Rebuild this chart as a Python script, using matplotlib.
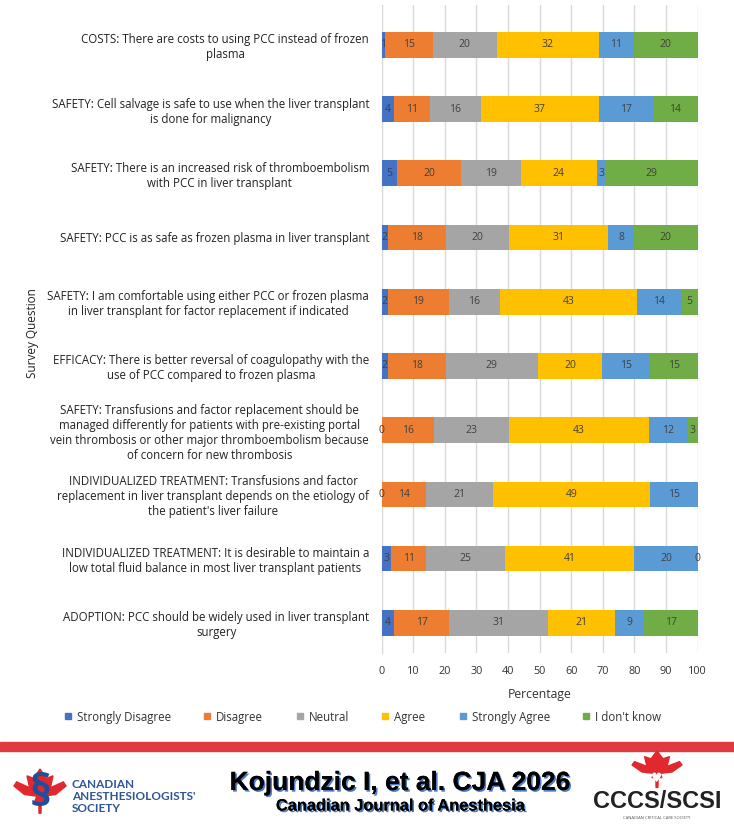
import numpy as np
import matplotlib
matplotlib.use('Agg')
import matplotlib.pyplot as plt
import matplotlib.patheffects as pe
from matplotlib.patches import Polygon, Rectangle

plt.rcParams['font.family'] = ['Open Sans', 'DejaVu Sans']

# ---------- data (top question first) ----------
questions = [
    "COSTS: There are costs to using PCC instead of frozen\nplasma",
    "SAFETY: Cell salvage is safe to use when the liver transplant\nis done for malignancy",
    "SAFETY: There is an increased risk of thromboembolism\nwith PCC in liver transplant",
    "SAFETY: PCC is as safe as frozen plasma in liver transplant",
    "SAFETY: I am comfortable using either PCC or frozen plasma\nin liver transplant for factor replacement if indicated",
    "EFFICACY: There is better reversal of coagulopathy with the\nuse of PCC compared to frozen plasma",
    "SAFETY: Transfusions and factor replacement should be\nmanaged differently for patients with pre-existing portal\nvein thrombosis or other major thromboembolism because\nof concern for new thrombosis",
    "INDIVIDUALIZED TREATMENT: Transfusions and factor\nreplacement in liver transplant depends on the etiology of\nthe patient's liver failure",
    "INDIVIDUALIZED TREATMENT: It is desirable to maintain a\nlow total fluid balance in most liver transplant patients",
    "ADOPTION: PCC should be widely used in liver transplant\nsurgery",
]
strongly_disagree = [1, 4, 5, 2, 2, 2, 0, 0, 3, 4]
disagree = [15, 11, 20, 18, 19, 18, 16, 14, 11, 17]
neutral = [20, 16, 19, 20, 16, 29, 23, 21, 25, 31]
agree = [32, 37, 24, 31, 43, 20, 43, 49, 41, 21]
strongly_agree = [11, 17, 3, 8, 14, 15, 12, 15, 20, 9]
dont_know = [20, 14, 29, 20, 5, 15, 3, np.nan, 0, 17]

series = [
    ("Strongly Disagree", strongly_disagree, "#4472C4"),
    ("Disagree", disagree, "#ED7D31"),
    ("Neutral", neutral, "#A5A5A5"),
    ("Agree", agree, "#FFC000"),
    ("Strongly Agree", strongly_agree, "#5B9BD5"),
    ("I don't know", dont_know, "#70AD47"),
]

vals = np.array([s[1] for s in series], dtype=float)
totals = np.nansum(vals, axis=0)
pct = np.nan_to_num(vals) / totals * 100  # 100% stacked, like Excel

fig = plt.figure(figsize=(7.34, 8.34), dpi=100)
ax = fig.add_axes([0.52, 0.217, 0.4305, 0.777])

y = np.arange(len(questions))
left = np.zeros(len(questions))
for i, (name, raw, color) in enumerate(series):
    ax.barh(y, pct[i], left=left, height=0.4, color=color, label=name, zorder=3)
    for j in range(len(questions)):
        if np.isnan(vals[i, j]):
            continue
        ax.text(left[j] + pct[i, j] / 2, y[j], f"{int(vals[i, j])}",
                ha='center', va='center', fontsize=7.5, color='#404040', zorder=4)
    left += pct[i]

ax.set_xlim(0, 100)
ax.set_ylim(9.47, -0.62)
ax.set_xticks(np.arange(0, 101, 10))
ax.set_yticks(y)
ax.set_yticklabels(questions)
for t in ax.get_yticklabels():
    t.set_multialignment('center')
ax.tick_params(axis='y', length=0, pad=9, labelsize=8.3, labelcolor='#222222')
ax.tick_params(axis='x', length=0, pad=9, labelsize=7.8, labelcolor='#333333')
ax.grid(axis='x', color='#D9D9D9', linewidth=1, zorder=0)
for s in ['top', 'right', 'bottom']:
    ax.spines[s].set_visible(False)
ax.spines['left'].set_color('#D9D9D9')
ax.set_xlabel('Percentage', fontsize=8.8, color='#333333', labelpad=8)

fig.text(0.044, 1 - 333 / 834, 'Survey Question', rotation=90, ha='center',
         va='center', fontsize=8.5, color='#222222')

# legend, drawn by hand so the labels sit on one line
legend_x = [68, 207, 300, 385, 463, 586]
ly = 1 - 716 / 834
for (name, raw, color), lx in zip(series, legend_x):
    fig.add_artist(Rectangle((lx / 734 - 3 / 734, ly - 3 / 834), 6 / 734, 6 / 834,
                             transform=fig.transFigure, color=color))
    fig.text(lx / 734 + 9 / 734, ly, name, ha='left', va='center_baseline',
             fontsize=8.3, color='#333333')

# ---------- footer ----------
fig.add_artist(Rectangle((0, 1 - 751 / 834), 1, 9 / 834,
                         transform=fig.transFigure, color='#E03A40'))

shadow = [pe.withSimplePatchShadow(offset=(1.2, -1.2), shadow_rgbFace='#3B6FC0', alpha=0.9),
          pe.Normal()]
fig.text(400 / 734, 1 - 783 / 834, 'Kojundzic I, et al. CJA 2026', ha='center',
         va='center', fontsize=19, fontweight='bold',
         family=['Liberation Sans Narrow', 'Liberation Sans', 'DejaVu Sans'],
         path_effects=shadow)
fig.text(400 / 734, 1 - 806 / 834, 'Canadian Journal of Anesthesia', ha='center',
         va='center', fontsize=11.8, fontweight='bold',
         family=['Liberation Sans Narrow', 'Liberation Sans', 'DejaVu Sans'],
         path_effects=shadow)

# left logo: maple leaf + society name
def leaf(cx, cy, w, h, color):
    pts = np.array([
        (0, 1), (0.12, 0.72), (0.25, 0.8), (0.2, 0.45), (0.45, 0.62), (0.5, 0.5),
        (0.3, 0.25), (0.06, 0.2), (0.1, 0.05), (0.02, 0.05), (0.02, -0.3),
        (-0.02, -0.3), (-0.02, 0.05), (-0.1, 0.05), (-0.06, 0.2), (-0.3, 0.25),
        (-0.5, 0.5), (-0.45, 0.62), (-0.2, 0.45), (-0.25, 0.8), (-0.12, 0.72)])
    xy = np.column_stack([cx + pts[:, 0] * w, cy + pts[:, 1] * h])
    fig.add_artist(Polygon(xy, closed=True, transform=fig.transFigure,
                           color=color, zorder=2))

leaf(40 / 734, 1 - 803 / 834, 52 / 734, 34 / 834, '#E0282E')
fig.text(40 / 734, 1 - 794 / 834, '§', ha='center', va='center', fontsize=32,
         color='#1F4E9B', fontweight='bold', zorder=3)
for k, line in enumerate(["CANADIAN", "ANESTHESIOLOGISTS'", "SOCIETY"]):
    fig.text(72 / 734, 1 - (784 + k * 12.5) / 834, line, ha='left', va='center',
             fontsize=8.5, color='#2F5597', fontweight='bold',
             family=['Lato', 'DejaVu Sans'])

# right logo
leaf(657 / 734, 1 - 779 / 834, 50 / 734, 28 / 834, '#E0282E')
fig.text(657 / 734, 1 - 779 / 834, '♥', ha='center', va='center', fontsize=9,
         color='white', family=['DejaVu Sans'])
fig.text(657 / 734, 1 - 801 / 834, 'CCCS/SCSI', ha='center', va='center',
         fontsize=17, fontweight='bold', color='#222222',
         family=['Liberation Sans Narrow', 'Liberation Sans', 'DejaVu Sans'])
fig.text(657 / 734, 1 - 818 / 834, 'CANADIAN CRITICAL CARE SOCIETY', ha='center',
         va='center', fontsize=3, color='#555555')

fig.savefig('out.png', dpi=100)
